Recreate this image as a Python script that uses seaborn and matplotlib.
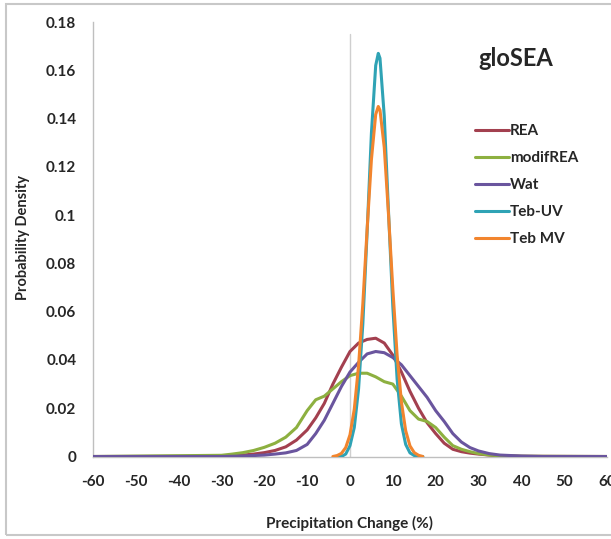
import matplotlib
matplotlib.use("Agg")
import matplotlib.pyplot as plt
import seaborn as sns
import pandas as pd
from matplotlib.patches import Rectangle

# ---------------- data ----------------
series_names = ["REA", "modifREA", "Wat", "Teb-UV", "Teb MV"]

rea_x = [-60, -30, -27.5, -25, -22.5, -20, -17.5, -15, -12.5, -10, -8, -6, -4, -2, 0, 2, 4, 6, 8, 10,
         12, 14, 16, 18, 20, 22, 24, 26, 28, 30, 32.5, 35, 40, 60]
rea_y = [0, 0.0001, 0.0003, 0.0006, 0.001, 0.0016, 0.0025, 0.004, 0.0068, 0.011, 0.016, 0.022, 0.030,
         0.037, 0.0435, 0.047, 0.0485, 0.049, 0.047, 0.042, 0.035, 0.027, 0.020, 0.014, 0.0095, 0.0055,
         0.003, 0.002, 0.0014, 0.001, 0.0006, 0.0003, 0.0001, 0]

mod_x = [-60, -30, -27.5, -25, -22.5, -20, -17.5, -15, -12.5, -10, -8, -6, -4, -2, 0, 2, 4, 6, 8, 10,
         12, 14, 16, 18, 20, 22, 24, 26, 28, 30, 32.5, 35, 40, 60]
mod_y = [0, 0.0005, 0.001, 0.0016, 0.0025, 0.0038, 0.0055, 0.008, 0.012, 0.019, 0.0235, 0.025, 0.028,
         0.031, 0.0335, 0.0345, 0.0345, 0.033, 0.031, 0.030, 0.025, 0.019, 0.0155, 0.0145, 0.012, 0.008,
         0.0045, 0.003, 0.002, 0.0012, 0.0006, 0.0003, 0.0001, 0]

wat_x = [-60, -30, -25, -20, -17.5, -15, -12.5, -10, -8, -6, -4, -2, 0, 2, 4, 6, 8, 10, 12, 14, 16,
         18, 20, 22, 24, 26, 28, 30, 32.5, 35, 40, 45, 60]
wat_y = [0, 0.0, 0.0002, 0.0006, 0.001, 0.0015, 0.0025, 0.005, 0.0095, 0.015, 0.022, 0.029, 0.035,
         0.039, 0.0425, 0.0435, 0.043, 0.041, 0.038, 0.0335, 0.029, 0.0245, 0.019, 0.0145, 0.0095,
         0.006, 0.0037, 0.0023, 0.0012, 0.0006, 0.0002, 0.0, 0]

tuv_x = [-3, -2, -1, 0, 1, 2, 3, 4, 5, 6, 6.6, 7, 8, 9, 10, 11, 12, 13, 14, 15, 16, 17]
tuv_y = [0, 0, 0.001, 0.0045, 0.012, 0.028, 0.055, 0.093, 0.134, 0.162, 0.167, 0.165, 0.141, 0.101,
         0.062, 0.032, 0.0135, 0.005, 0.0015, 0.0004, 0, 0]

tmv_x = [-4, -3, -2, -1, 0, 1, 2, 3, 4, 5, 6, 6.6, 7, 8, 9, 10, 11, 12, 13, 14, 15, 16, 17]
tmv_y = [0, 0.0004, 0.0013, 0.0037, 0.009, 0.0196, 0.0376, 0.0634, 0.0942, 0.123, 0.1417, 0.145,
         0.1435, 0.128, 0.100, 0.0694, 0.042, 0.0226, 0.0107, 0.0044, 0.0016, 0.0005, 0]

x_ticks = [-60, -50, -40, -30, -20, -10, 0, 10, 20, 30, 40, 50, 60]
x_ticklabels = ["-60", "-50", "-40", "-30", "-20", "-10", "0", "10", "20", "30", "40", "50", "60"]
y_ticks = [0, 0.02, 0.04, 0.06, 0.08, 0.1, 0.12, 0.14, 0.16, 0.18]
y_ticklabels = ["0", "0.02", "0.04", "0.06", "0.08", "0.1", "0.12", "0.14", "0.16", "0.18"]

colors = {"REA": "#A3404F", "modifREA": "#8DB040", "Wat": "#6A559E",
          "Teb-UV": "#2FA3B5", "Teb MV": "#F2852E"}

# ---------------- build table ----------------
frames = []
for name, xs, ys in zip(series_names, [rea_x, mod_x, wat_x, tuv_x, tmv_x],
                        [rea_y, mod_y, wat_y, tuv_y, tmv_y]):
    frames.append(pd.DataFrame({"x": xs, "y": ys, "series": name}))
df = pd.concat(frames, ignore_index=True)

# ---------------- plot ----------------
sns.set_style("white")
plt.rcParams["font.family"] = ["Lato", "DejaVu Sans"]

fig = plt.figure(figsize=(6.11, 5.39), dpi=100)
ax = fig.add_axes([93 / 611, (539 - 456.5) / 539, (607 - 93) / 611, (456.5 - 22) / 539])

# light vertical reference line at zero
ax.plot([0, 0], [0, 0.175], color="#CFCFCF", lw=1.0, zorder=1)

sns.lineplot(data=df, x="x", y="y", hue="series", hue_order=series_names,
             palette=colors, sort=False, estimator=None, linewidth=2.2, ax=ax, zorder=3)

ax.set_xlim(-60, 60)
ax.set_ylim(0, 0.18)
ax.set_xticks(x_ticks)
ax.set_xticklabels(x_ticklabels, fontsize=11, fontweight="bold")
ax.set_yticks(y_ticks)
ax.set_yticklabels(y_ticklabels, fontsize=11, fontweight="bold")
ax.tick_params(axis="both", direction="out", length=4, width=1, color="#BFBFBF")
ax.tick_params(axis="y", pad=8)
ax.tick_params(axis="x", pad=9)

for s in ["top", "right"]:
    ax.spines[s].set_visible(False)
for s in ["left", "bottom"]:
    ax.spines[s].set_color("#BFBFBF")
    ax.spines[s].set_linewidth(1.0)

ax.set_xlabel("")
ax.set_ylabel("")
fig.text(350 / 611, 1 - 523 / 539, "Precipitation Change (%)", ha="center", va="center",
         fontsize=11, fontweight="bold")
fig.text(23 / 611, 1 - 238 / 539, "Probability Density", ha="center", va="center",
         rotation=90, fontsize=10.5, fontweight="bold")

fig.text(516 / 611, 1 - 58 / 539, "gloSEA", ha="center", va="center",
         fontsize=17, fontweight="bold")

handles, labels = ax.get_legend_handles_labels()
ax.legend(handles, labels, loc="upper left", bbox_to_anchor=(475 / 611, 1 - 124 / 539),
          bbox_transform=fig.transFigure, frameon=False, borderpad=0, borderaxespad=0,
          handlelength=2.2, handletextpad=0.1, labelspacing=0.85,
          prop={"size": 11, "weight": "bold", "family": ["Lato", "DejaVu Sans"]})

# outer chart border
fig.patches.append(Rectangle((6 / 611, 4 / 539), 1.2, 531 / 539, transform=fig.transFigure,
                             fill=False, edgecolor="#C8C8C8", lw=1.5, zorder=0))

fig.savefig("out.png", dpi=100)
